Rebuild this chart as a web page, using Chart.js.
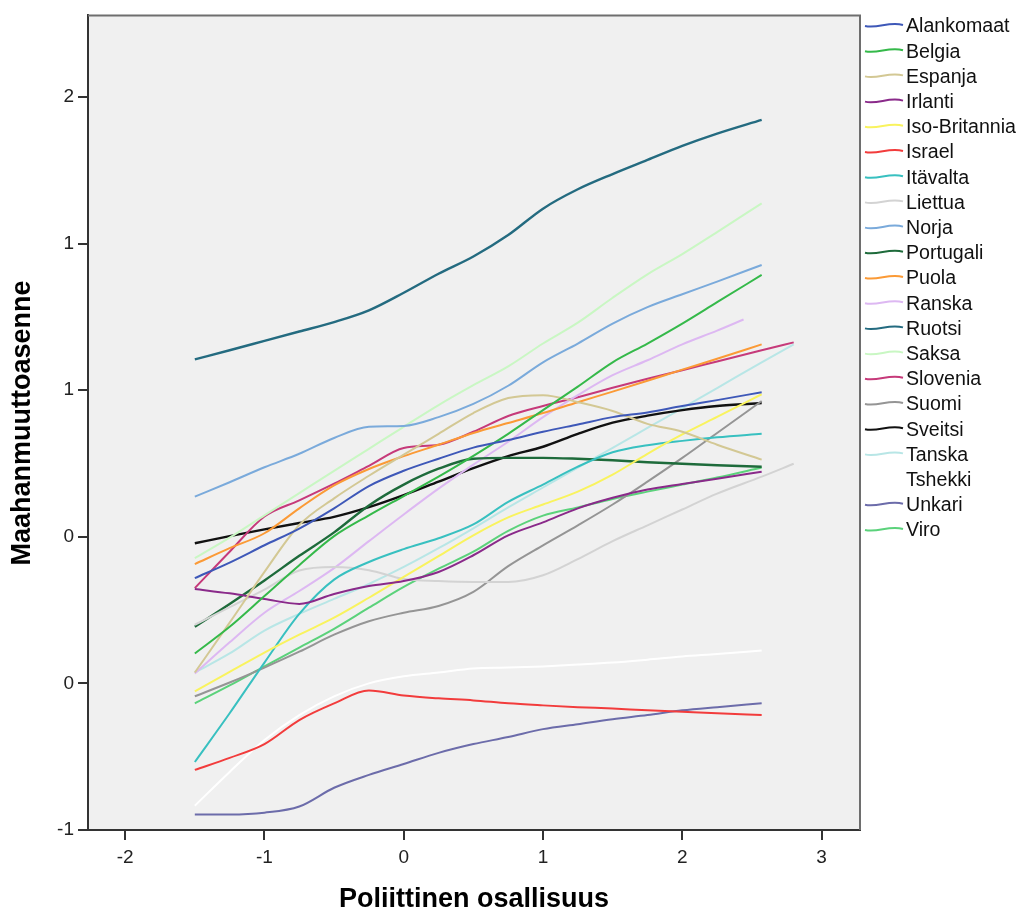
<!DOCTYPE html>
<html><head><meta charset="utf-8">
<script src="https://cdn.jsdelivr.net/npm/chart.js@4.4.1/dist/chart.umd.min.js"></script>
<style>html,body{margin:0;padding:0;background:#fff;}#wrap{width:1021px;height:917px;}</style>
</head><body><div id="wrap"><canvas id="c" width="1021" height="917"></canvas></div>
<script>
// ---- data ----
const xStd   = [-1.5,-1.25,-1,-0.75,-0.5,-0.25,0,0.25,0.5,0.75,1,1.25,1.5,1.75,2,2.25,2.57];
const xLong  = [-1.5,-1.25,-1,-0.75,-0.5,-0.25,0,0.25,0.5,0.75,1,1.25,1.5,1.75,2,2.25,2.57,2.8];
const xRanska= [-1.5,-1.25,-1,-0.75,-0.5,-0.25,0,0.25,0.5,0.75,1,1.25,1.5,1.75,2,2.25,2.44];

const countries = ["Alankomaat","Belgia","Espanja","Irlanti","Iso-Britannia","Israel","Itävalta","Liettua","Norja","Portugali","Puola","Ranska","Ruotsi","Saksa","Slovenia","Suomi","Sveitsi","Tanska","Tshekki","Unkari","Viro"];

const alankomaat   = [0.359,0.412,0.471,0.528,0.597,0.673,0.725,0.766,0.804,0.83,0.858,0.883,0.908,0.924,0.946,0.966,0.993];
const belgia       = [0.102,0.193,0.298,0.403,0.502,0.573,0.639,0.705,0.776,0.851,0.932,1.012,1.095,1.159,1.227,1.3,1.393];
const espanja      = [0.037,0.207,0.38,0.54,0.631,0.708,0.78,0.851,0.922,0.973,0.983,0.959,0.929,0.885,0.858,0.814,0.763];
const irlanti      = [0.322,0.307,0.288,0.271,0.305,0.332,0.349,0.38,0.437,0.505,0.549,0.597,0.633,0.661,0.68,0.698,0.722];
const isoBritannia = [-0.027,0.039,0.105,0.166,0.224,0.292,0.363,0.434,0.505,0.566,0.61,0.654,0.712,0.783,0.849,0.909,0.986];
const israel       = [-0.295,-0.254,-0.207,-0.125,-0.068,-0.024,-0.041,-0.051,-0.058,-0.068,-0.075,-0.081,-0.086,-0.092,-0.097,-0.102,-0.108];
const itavalta     = [-0.268,-0.102,0.071,0.237,0.354,0.414,0.458,0.495,0.542,0.619,0.678,0.739,0.788,0.812,0.827,0.839,0.851];
const liettua      = [0.2,0.26,0.32,0.385,0.397,0.386,0.356,0.349,0.346,0.346,0.369,0.424,0.485,0.539,0.593,0.647,0.705,0.749];
const norja        = [0.637,0.686,0.737,0.783,0.837,0.875,0.878,0.908,0.953,1.015,1.095,1.159,1.227,1.283,1.327,1.37,1.427];
const portugali    = [0.193,0.271,0.351,0.435,0.515,0.607,0.678,0.732,0.766,0.769,0.769,0.766,0.761,0.754,0.749,0.744,0.739];
const puola        = [0.407,0.461,0.512,0.597,0.675,0.731,0.775,0.814,0.854,0.888,0.922,0.959,0.995,1.032,1.07,1.107,1.156];
const ranska       = [0.034,0.14,0.241,0.315,0.393,0.485,0.576,0.664,0.746,0.824,0.908,0.983,1.051,1.102,1.156,1.203,1.241];
const ruotsi       = [1.105,1.136,1.168,1.2,1.232,1.272,1.332,1.397,1.456,1.529,1.619,1.685,1.737,1.785,1.833,1.875,1.922];
const saksa        = [0.427,0.497,0.573,0.649,0.725,0.8,0.875,0.949,1.017,1.081,1.159,1.23,1.315,1.395,1.464,1.539,1.637];
const slovenia     = [0.325,0.449,0.569,0.624,0.681,0.742,0.803,0.814,0.858,0.912,0.946,0.976,1.008,1.039,1.068,1.098,1.136,1.163];
const suomi        = [-0.044,0.003,0.054,0.108,0.166,0.212,0.241,0.264,0.312,0.4,0.471,0.539,0.61,0.688,0.769,0.854,0.963];
const sveitsi      = [0.478,0.502,0.525,0.547,0.568,0.601,0.642,0.688,0.734,0.775,0.807,0.851,0.889,0.913,0.932,0.946,0.956];
const tanska       = [0.037,0.102,0.18,0.237,0.288,0.339,0.397,0.461,0.529,0.6,0.668,0.736,0.803,0.871,0.939,1.007,1.095,1.156];
const tshekki      = [-0.417,-0.302,-0.193,-0.108,-0.044,0.0,0.024,0.037,0.051,0.054,0.058,0.064,0.071,0.081,0.092,0.1,0.112];
const unkari       = [-0.447,-0.447,-0.441,-0.42,-0.356,-0.312,-0.275,-0.237,-0.207,-0.183,-0.156,-0.139,-0.122,-0.108,-0.092,-0.081,-0.068];
const viro         = [-0.068,-0.007,0.058,0.122,0.186,0.258,0.329,0.391,0.449,0.52,0.572,0.6,0.629,0.654,0.678,0.702,0.736];

const xTicks = [-2,-1,0,1,2,3];
const yTicks = [-0.5,0,0.5,1,1.5,2];

// ---- styling ----
const colors = ["#3e58b8","#35b94a","#d3c894","#8a2a8a","#f9f35e","#f23c3c","#38c0c0","#d3d3d3","#7aaadb","#1e6b3b","#fb9a36","#ddb8f2","#246b80","#c9f7c3","#c63a7a","#959595","#111111","#b8e6e6","#ffffff","#6c6caa","#5bd27b"];
const seriesY = [alankomaat,belgia,espanja,irlanti,isoBritannia,israel,itavalta,liettua,norja,portugali,puola,ranska,ruotsi,saksa,slovenia,suomi,sveitsi,tanska,tshekki,unkari,viro];
const seriesX = seriesY.map((s,i)=> countries[i]==="Ranska" ? xRanska : (s.length===18 ? xLong : xStd));

const FONT = "'Liberation Sans', Arial, sans-serif";

const datasets = seriesY.map((ys,i)=>({
  label: countries[i],
  data: ys.map((v,j)=>({x: seriesX[i][j], y: v})),
  borderColor: colors[i],
  backgroundColor: colors[i],
  borderWidth: (countries[i]==="Ruotsi"||countries[i]==="Sveitsi"||countries[i]==="Portugali") ? 2.4 : 2,
  pointRadius: 0,
  fill: false,
  cubicInterpolationMode: 'monotone',
  tension: 0.4
}));

const bgPlugin = {
  id: 'bg',
  beforeDraw(chart){
    const {ctx, chartArea:a} = chart;
    ctx.save();
    ctx.fillStyle = '#f0f0f0';
    ctx.fillRect(a.left, a.top, a.right-a.left, a.bottom-a.top);
    ctx.restore();
  },
  afterDraw(chart){
    const {ctx, chartArea:a} = chart;
    ctx.save();
    ctx.strokeStyle = '#6e6e6e';
    ctx.lineWidth = 2;
    ctx.beginPath();
    ctx.moveTo(a.left, a.top); ctx.lineTo(a.right, a.top); ctx.lineTo(a.right, a.bottom);
    ctx.stroke();
    ctx.fillStyle = '#000';
    ctx.font = "bold 27px " + FONT;
    ctx.textAlign = 'center'; ctx.textBaseline = 'middle';
    ctx.fillText('Poliittinen osallisuus', (a.left+a.right)/2, 900);
    ctx.translate(23, 423);
    ctx.rotate(-Math.PI/2);
    ctx.fillText('Maahanmuuttoasenne', 0, 0);
    ctx.restore();
    ctx.save();
    ctx.font = "19.6px " + FONT;
    ctx.textAlign = 'left'; ctx.textBaseline = 'middle';
    countries.forEach((name,i)=>{
      const y = 26 + i*25.2;
      ctx.strokeStyle = colors[i];
      ctx.lineWidth = 2;
      ctx.beginPath();
      ctx.moveTo(865, y);
      ctx.bezierCurveTo(878, y+3, 889, y-5, 903, y-1);
      ctx.stroke();
      ctx.fillStyle = '#111';
      ctx.fillText(name, 906, y+1);
    });
    ctx.restore();
  }
};

new Chart(document.getElementById('c'), {
  type: 'line',
  data: { datasets },
  options: {
    responsive: false,
    animation: false,
    devicePixelRatio: 1,
    layout: { padding: { top: 11, right: 161, left: 0, bottom: 0 } },
    plugins: { legend: { display: false }, tooltip: { enabled: false } },
    scales: {
      x: {
        type: 'linear', min: -2.267, max: 3.276,
        afterBuildTicks: s => { s.ticks = xTicks.map(v=>({value:v})); },
        afterFit: s => { s.height = 87; },
        grid: { drawOnChartArea: false, drawTicks: true, tickLength: 10, color: '#333', lineWidth: 2 },
        border: { display: true, color: '#333', width: 2 },
        ticks: { color: '#222', font: { family: FONT, size: 19 }, padding: 6, maxRotation: 0, callback: v => String(v) }
      },
      y: {
        type: 'linear', min: -0.5, max: 2.278,
        afterBuildTicks: s => { s.ticks = yTicks.map(v=>({value:v})); },
        afterFit: s => { s.width = 88; },
        grid: { drawOnChartArea: false, drawTicks: true, tickLength: 10, color: '#333', lineWidth: 2 },
        border: { display: true, color: '#333', width: 2 },
        ticks: { color: '#222', font: { family: FONT, size: 19 }, padding: 4, callback: v => String(Math.floor(v + 1e-9)) }
      }
    }
  },
  plugins: [bgPlugin]
});
</script></body></html>
